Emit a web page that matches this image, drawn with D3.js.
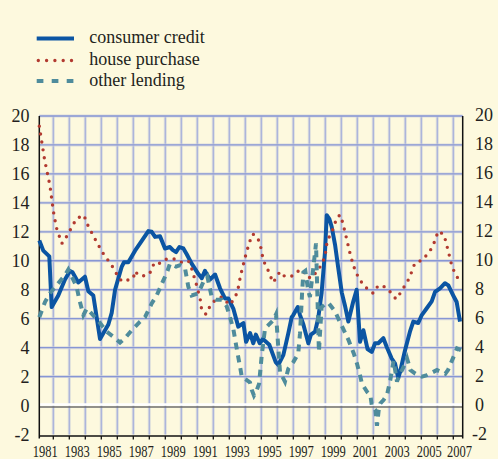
<!DOCTYPE html>
<html>
<head>
<meta charset="utf-8">
<script src="https://cdn.jsdelivr.net/npm/d3@7/dist/d3.min.js"></script>
<style>
  html, body { margin: 0; padding: 0; background: #fdf9de; }
  svg { display: block; }
</style>
</head>
<body>
<svg id="chart" width="498" height="459"></svg>
<script>
// ---------------- DATA ----------------
const seriesNames = ["consumer credit", "house purchase", "other lending"];

const consumerCredit = [
  [1981.125, 11.4],[1981.375, 10.7],[1981.75, 10.3],[1981.9, 6.8],[1982.31, 7.6],[1982.73, 8.7],
  [1983.04, 9.3],[1983.2, 9.2],[1983.56, 8.5],[1983.98, 8.9],[1984.19, 7.9],[1984.5, 7.6],
  [1984.92, 4.6],[1985.44, 5.6],[1985.65, 6.4],[1985.86, 8.0],[1986.28, 9.6],[1986.42, 9.9],
  [1986.69, 9.9],[1987.11, 10.7],[1987.42, 11.2],[1987.94, 12.05],[1988.15, 12.0],[1988.36, 11.65],
  [1988.67, 11.7],[1988.98, 10.85],[1989.29, 10.95],[1989.46, 10.75],[1989.67, 10.6],[1989.88, 10.95],
  [1990.13, 10.85],[1990.34, 10.45],[1990.65, 9.8],[1991.06, 9.1],[1991.28, 8.8],[1991.48, 9.3],
  [1991.79, 8.7],[1992.11, 9.05],[1992.42, 8.1],[1992.73, 7.4],[1992.94, 7.4],[1993.25, 6.7],
  [1993.56, 5.45],[1993.88, 5.7],[1994.05, 4.4],[1994.3, 5.0],[1994.5, 4.3],[1994.66, 4.9],
  [1994.9, 4.3],[1995.1, 4.6],[1995.5, 4.2],[1995.9, 3.0],[1996.06, 2.8],[1996.38, 3.5],
  [1996.69, 5.0],[1996.9, 6.1],[1997.0, 6.25],[1997.28, 6.8],[1997.42, 6.25],[1997.63, 5.6],
  [1997.94, 4.3],[1998.1, 4.9],[1998.36, 5.1],[1998.56, 6.05],[1998.77, 7.8],[1998.98, 10.6],
  [1999.09, 13.15],[1999.25, 12.9],[1999.4, 12.35],[1999.61, 11.1],[1999.81, 9.5],[2000.03, 7.8],
  [2000.23, 6.9],[2000.44, 5.8],[2000.75, 7.2],[2000.96, 8.0],[2001.17, 4.4],[2001.38, 5.2],
  [2001.64, 3.9],[2001.9, 3.7],[2002.11, 4.3],[2002.31, 4.3],[2002.63, 4.65],[2002.84, 4.05],
  [2003.15, 3.25],[2003.36, 2.9],[2003.56, 1.9],[2003.67, 2.3],[2003.98, 3.8],[2004.29, 5.1],
  [2004.5, 5.8],[2004.81, 5.7],[2005.03, 6.25],[2005.33, 6.7],[2005.65, 7.2],[2005.86, 7.85],
  [2006.17, 8.1],[2006.48, 8.45],[2006.69, 8.3],[2007.0, 7.6],[2007.21, 7.15],[2007.42, 5.8]
];

const housePurchase = [
  [1981.125, 19.3],[1981.46, 16.95],[1981.79, 15.2],[1982.0, 13.45],[1982.19, 12.3],[1982.53, 11.2],
  [1982.69, 11.35],[1982.92, 11.9],[1983.19, 12.35],[1983.42, 12.9],[1983.92, 13.15],[1984.09, 12.6],
  [1984.56, 11.6],[1985.06, 10.6],[1985.67, 9.65],[1985.9, 9.2],[1986.17, 8.7],[1986.48, 8.55],
  [1986.7, 8.7],[1987.0, 8.8],[1987.11, 9.3],[1987.31, 9.0],[1987.79, 8.95],[1988.15, 9.3],
  [1988.29, 9.85],[1988.61, 9.8],[1988.98, 10.1],[1989.5, 10.15],[1989.98, 9.9],[1990.44, 10.0],
  [1990.65, 9.45],[1990.96, 8.3],[1991.21, 7.2],[1991.27, 6.6],[1991.54, 6.3],[1991.79, 6.85],
  [1992.04, 7.2],[1992.52, 7.5],[1992.79, 7.2],[1993.04, 6.95],[1993.25, 7.3],[1993.5, 7.8],
  [1993.71, 9.0],[1993.98, 10.2],[1994.25, 11.25],[1994.46, 11.85],[1994.71, 11.7],[1994.92, 11.2],
  [1995.13, 10.0],[1995.37, 9.5],[1995.54, 9.0],[1995.75, 8.5],[1995.96, 8.9],[1996.17, 9.25],
  [1996.48, 8.9],[1996.94, 8.95],[1997.25, 9.25],[1997.56, 9.4],[1997.84, 8.9],[1998.15, 8.8],
  [1998.46, 9.25],[1998.78, 9.75],[1998.98, 10.3],[1999.06, 10.9],[1999.12, 11.4],[1999.4, 11.95],
  [1999.75, 13.05],[1999.96, 13.15],[2000.23, 12.0],[2000.59, 10.3],[2000.9, 9.2],[2001.17, 8.7],
  [2001.38, 8.3],[2002.0, 7.75],[2002.31, 8.3],[2002.73, 8.2],[2003.15, 7.75],[2003.42, 7.35],
  [2003.71, 7.8],[2003.98, 8.3],[2004.25, 8.8],[2004.42, 9.3],[2004.6, 9.85],[2005.09, 10.05],
  [2005.4, 10.5],[2005.71, 10.95],[2005.88, 11.5],[2006.06, 12.05],[2006.42, 11.8],[2006.69, 10.65],
  [2006.94, 9.5],[2007.21, 9.0],[2007.38, 8.45]
];

const otherLending = [
  [1981.125, 6.1],[1981.48, 7.15],[1981.79, 7.75],[1982.31, 8.45],[1982.73, 9.0],[1982.94, 9.4],
  [1983.46, 8.2],[1983.63, 7.3],[1983.88, 6.25],[1984.09, 6.7],[1984.4, 6.35],[1984.92, 5.7],
  [1985.34, 5.1],[1985.75, 4.75],[1986.17, 4.35],[1986.48, 4.65],[1986.9, 5.2],[1987.42, 5.8],
  [1987.73, 6.1],[1988.15, 7.05],[1988.46, 7.6],[1988.88, 8.65],[1989.09, 9.15],[1989.29, 9.8],
  [1989.46, 9.7],[1989.67, 9.6],[1989.92, 9.7],[1990.23, 9.5],[1990.44, 8.2],[1990.65, 7.6],
  [1991.06, 7.75],[1991.38, 8.55],[1991.63, 8.9],[1991.9, 7.5],[1992.21, 7.3],[1992.52, 7.3],
  [1992.84, 6.85],[1993.04, 6.1],[1993.25, 5.3],[1993.5, 3.7],[1993.67, 2.7],[1993.78, 2.0],
  [1993.98, 1.85],[1994.29, 1.6],[1994.4, 1.1],[1994.54, 0.7],[1994.71, 1.05],[1994.86, 1.5],
  [1995.03, 3.5],[1995.23, 5.3],[1995.44, 5.55],[1995.75, 5.9],[1995.92, 6.3],[1996.17, 2.3],
  [1996.48, 1.65],[1996.69, 2.55],[1997.0, 3.0],[1997.31, 3.6],[1997.42, 5.0],[1997.56, 8.0],
  [1997.63, 9.2],[1997.75, 9.3],[1997.94, 7.9],[1998.04, 7.5],[1998.25, 9.5],[1998.42, 11.2],
  [1998.6, 3.7],[1998.77, 6.8],[1998.98, 7.0],[1999.19, 7.1],[1999.61, 6.5],[1999.9, 5.8],
  [2000.25, 5.0],[2000.46, 4.5],[2000.78, 3.6],[2000.98, 2.9],[2001.19, 2.0],[2001.29, 1.5],
  [2001.61, 0.95],[2001.82, 0.7],[2001.92, -0.1],[2002.13, -0.3],[2002.23, -1.4],[2002.34, -0.3],
  [2002.44, 0.15],[2002.65, 0.4],[2002.86, 0.75],[2003.06, 1.75],[2003.27, 3.1],[2003.48, 1.65],
  [2003.59, 2.0],[2004.0, 2.9],[2004.11, 3.25],[2004.32, 2.45],[2004.63, 2.2],[2005.04, 2.0],
  [2005.36, 2.1],[2005.98, 2.45],[2006.5, 2.2],[2006.67, 2.45],[2007.03, 3.4],[2007.23, 3.95],
  [2007.54, 3.8]
];

const yTickValues = [-2, 0, 2, 4, 6, 8, 10, 12, 14, 16, 18, 20];
const gridYears = d3.range(1982, 2008);
const xLabelYears = [1981, 1983, 1985, 1987, 1989, 1991, 1993, 1995, 1997, 1999, 2001, 2003, 2005, 2007];
const xDomain = [1981.125, 2007.5875];
const yDomain = [-2, 20];

// ---------------- LAYOUT ----------------
const FONT = "'Liberation Serif', 'DejaVu Serif', serif";
const svg = d3.select("#chart");
const margin = { left: 39.3, right: 35.3, top: 116, bottom: 24.5 };
const W = 498, H = 459;
const x = d3.scaleLinear().domain(xDomain).range([margin.left, W - margin.right]);
const y = d3.scaleLinear().domain(yDomain).range([H - margin.bottom, margin.top]);

const colors = { cc: "#0b55a3", hp: "#b23a30", ol: "#4f8c9c" };

svg.append("rect").attr("width", W).attr("height", H).attr("fill", "#fdf9de");

// gridlines
const grid = svg.append("g");
gridYears.forEach(yr => {
  grid.append("line").attr("x1", x(yr)).attr("x2", x(yr)).attr("y1", y(20)).attr("y2", y(-2))
    .attr("stroke", "#cfd2dc").attr("stroke-width", 3).attr("opacity", 0.7);
  grid.append("line").attr("x1", x(yr)).attr("x2", x(yr)).attr("y1", y(20)).attr("y2", y(-2))
    .attr("stroke", "#a3aedb").attr("stroke-width", 1.1);
});
yTickValues.filter(v => v > 0).forEach(v => {
  grid.append("line").attr("x1", x.range()[0]).attr("x2", x.range()[1]).attr("y1", y(v)).attr("y2", y(v))
    .attr("stroke", "#cfd2dc").attr("stroke-width", 3).attr("opacity", 0.7);
  grid.append("line").attr("x1", x.range()[0]).attr("x2", x.range()[1]).attr("y1", y(v)).attr("y2", y(v))
    .attr("stroke", "#8796d4").attr("stroke-width", 1.3);
});
grid.append("line").attr("x1", x.range()[0]).attr("x2", x.range()[1]).attr("y1", y(0) - 1).attr("y2", y(0) - 1)
  .attr("stroke", "#ffffff").attr("stroke-width", 2.5);
grid.append("line").attr("x1", x.range()[0]).attr("x2", x.range()[1]).attr("y1", y(0) + 1.5).attr("y2", y(0) + 1.5)
  .attr("stroke", "#6e6e6e").attr("stroke-width", 1.6);

// axes
const axisG = svg.append("g");
axisG.append("line").attr("x1", x.range()[0]).attr("x2", x.range()[0]).attr("y1", y(20)).attr("y2", y(-2) + 4)
  .attr("stroke", "#111").attr("stroke-width", 1.5);
axisG.append("line").attr("x1", x.range()[1]).attr("x2", x.range()[1]).attr("y1", y(20)).attr("y2", y(-2) + 4)
  .attr("stroke", "#111").attr("stroke-width", 1.5);
axisG.append("line").attr("x1", x.range()[0]).attr("x2", x.range()[1]).attr("y1", y(-2) + 1.5).attr("y2", y(-2) + 1.5)
  .attr("stroke", "#111").attr("stroke-width", 1.5);
gridYears.forEach(yr => {
  axisG.append("line").attr("x1", x(yr)).attr("x2", x(yr)).attr("y1", y(-2) + 1.5).attr("y2", y(-2) + 5)
    .attr("stroke", "#111").attr("stroke-width", 1.3);
});

// y labels
yTickValues.forEach(v => {
  svg.append("text").attr("x", 29.5).attr("y", y(v) + 6).attr("text-anchor", "end")
    .attr("font-family", FONT).attr("fill", "#231f20").attr("font-size", 18).text(v);
  svg.append("text").attr("x", v < 0 ? 472 : 475).attr("y", y(v) + 5).attr("text-anchor", "start")
    .attr("font-family", FONT).attr("fill", "#231f20").attr("font-size", 18).text(v);
});

// x labels
xLabelYears.forEach(yr => {
  const cx = Math.min(x(yr + 0.5), 459.5);
  svg.append("text").attr("x", cx).attr("y", 456.5).attr("text-anchor", "middle")
    .attr("font-family", FONT).attr("fill", "#231f20").attr("font-size", 16)
    .attr("textLength", 25).attr("lengthAdjust", "spacingAndGlyphs").text(yr);
});

// series
const line = d3.line().x(d => x(d[0])).y(d => y(d[1]));
svg.append("path").datum(consumerCredit).attr("d", line).attr("fill", "none")
  .attr("stroke", colors.cc).attr("stroke-width", 4).attr("stroke-linejoin", "round");
svg.append("path").datum(housePurchase).attr("d", line).attr("fill", "none")
  .attr("stroke", colors.hp).attr("stroke-width", 3.4).attr("stroke-linecap", "round")
  .attr("stroke-dasharray", "0,8");
svg.append("path").datum(otherLending).attr("d", line).attr("fill", "none")
  .attr("stroke", colors.ol).attr("stroke-width", 4).attr("stroke-dasharray", "7,6");

// legend
const legend = [
  { name: seriesNames[0], color: colors.cc, dash: null, w: 4, cap: "butt" },
  { name: seriesNames[1], color: colors.hp, dash: "0,8.3", w: 3.4, cap: "round" },
  { name: seriesNames[2], color: colors.ol, dash: "6.7,8.3", w: 4, cap: "butt" }
];
const legendY = [38.5, 60.5, 81];
legend.forEach((l, i) => {
  const ly = legendY[i];
  const p = svg.append("line").attr("x1", l.cap === "round" ? 38.3 : 36.7).attr("x2", l.cap === "round" ? 72 : 74)
    .attr("y1", ly).attr("y2", ly).attr("stroke", l.color).attr("stroke-width", l.w)
    .attr("stroke-linecap", l.cap);
  if (l.dash) p.attr("stroke-dasharray", l.dash);
  svg.append("text").attr("x", 89.3).attr("y", ly + 4.5).attr("font-family", FONT).attr("fill", "#231f20")
    .attr("font-size", 18).text(l.name);
});
</script>
</body>
</html>
